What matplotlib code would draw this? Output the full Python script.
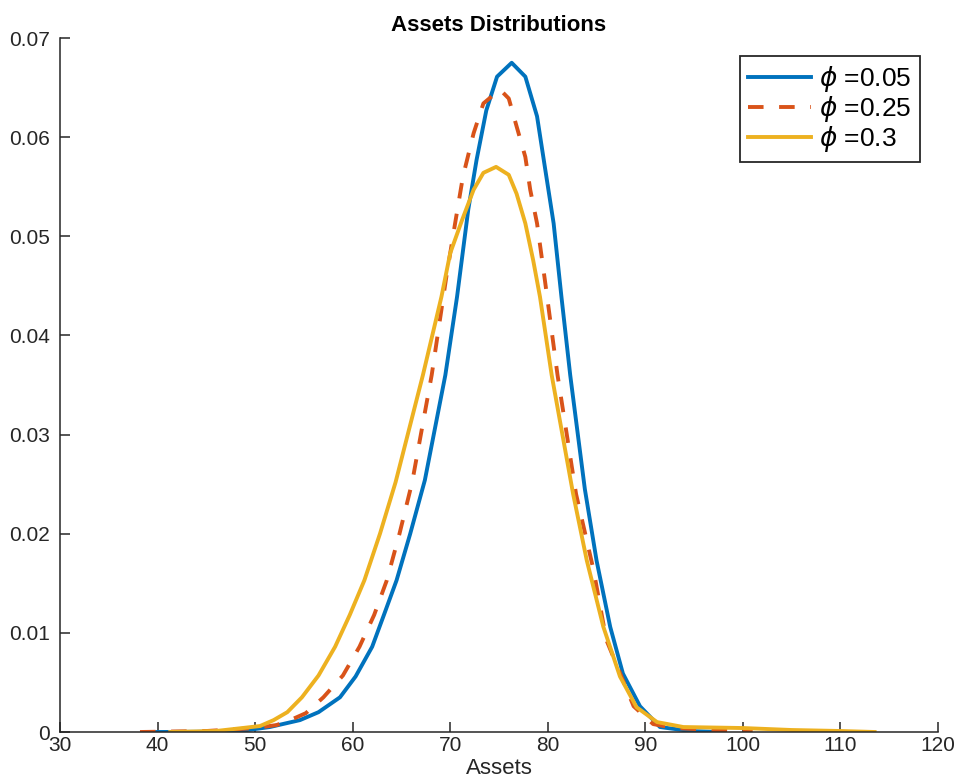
import matplotlib
matplotlib.use("Agg")
import matplotlib.pyplot as plt

plt.rcParams['font.family'] = ['Liberation Sans', 'DejaVu Sans']
plt.rcParams['mathtext.fontset'] = 'dejavusans'

# --- data ---
x_phi005 = [39.8, 44.0, 48.5, 51.5, 54.6, 56.5, 58.7, 60.3, 62.0, 63.2, 64.5, 65.9, 67.4, 69.5, 70.7, 71.85,
            72.7, 73.7, 74.8, 76.3, 77.7, 78.9, 79.7, 80.6, 81.4, 82.3, 83.8, 85.0, 86.4, 87.7, 89.45, 91.5,
            94.6, 97.6]
y_phi005 = [0.0, 0.00002, 0.0001, 0.0005, 0.0012, 0.0020, 0.0035, 0.0056, 0.0086, 0.0118, 0.0153, 0.0200,
            0.0254, 0.036, 0.0439, 0.0527, 0.0577, 0.0627, 0.0661, 0.0675, 0.0661, 0.0621, 0.0570, 0.0513,
            0.0439, 0.036, 0.0245, 0.0173, 0.0106, 0.0059, 0.0026, 0.0005, 0.0001, 0.0]

x_phi025 = [38.2, 45.0, 50.0, 52.2, 53.6, 55.2, 57.0, 59.0, 60.7, 62.2, 63.5, 64.8, 66.1, 68.1, 69.6, 70.5,
            71.3, 72.4, 73.4, 75.1, 76.0, 76.8, 77.7, 78.2, 78.9, 79.7, 81.0, 82.9, 84.7, 86.0, 88.8, 90.8,
            93.0, 97.0, 101.0]
y_phi025 = [0.0, 0.0001, 0.0004, 0.0007, 0.0012, 0.0019, 0.0035, 0.0057, 0.0086, 0.0118, 0.0153, 0.020,
            0.0252, 0.036, 0.0459, 0.0513, 0.0560, 0.0604, 0.0634, 0.0648, 0.0639, 0.0611, 0.0580, 0.0547,
            0.0513, 0.0456, 0.036, 0.024, 0.0163, 0.0093, 0.0026, 0.0008, 0.0004, 0.0002, 0.0]

x_phi03 = [41.3, 46.0, 50.5, 51.9, 53.3, 54.8, 56.5, 58.2, 59.7, 61.2, 62.8, 64.4, 67.2, 69.1, 70.0, 71.2,
           72.4, 73.4, 74.7, 76.0, 76.8, 77.7, 78.5, 79.2, 80.4, 82.6, 84.0, 85.7, 87.4, 89.1, 91.2, 93.9,
           100.0, 105.0, 110.0, 113.5]
y_phi03 = [0.0, 0.0001, 0.0006, 0.0012, 0.0020, 0.0035, 0.0057, 0.0086, 0.0118, 0.0153, 0.020, 0.0252,
           0.036, 0.0439, 0.0483, 0.0516, 0.0547, 0.0564, 0.0570, 0.0562, 0.0543, 0.0513, 0.0476, 0.0439,
           0.036, 0.024, 0.0173, 0.0106, 0.0056, 0.0025, 0.0010, 0.0005, 0.0004, 0.0002, 0.0001, 0.0]

series_labels = [r'$\phi$ =0.05', r'$\phi$ =0.25', r'$\phi$ =0.3']
x_ticks = [30, 40, 50, 60, 70, 80, 90, 100, 110, 120]
y_ticks = [0, 0.01, 0.02, 0.03, 0.04, 0.05, 0.06, 0.07]
y_tick_labels = ['0', '0.01', '0.02', '0.03', '0.04', '0.05', '0.06', '0.07']

fig = plt.figure(figsize=(9.58, 7.8), dpi=100)
ax = fig.add_axes([60/958, 48/780, 878/958, 694/780])

ax.plot(x_phi005, y_phi005, color='#0072BD', lw=2.8, label=series_labels[0],
        solid_joinstyle='round')
ax.plot(x_phi025, y_phi025, color='#D95319', lw=2.8, linestyle=(0, (4, 4)), label=series_labels[1],
        dash_joinstyle='round')
ax.plot(x_phi03, y_phi03, color='#EDB120', lw=2.8, label=series_labels[2],
        solid_joinstyle='round')

ax.set_xlim(30, 120)
ax.set_ylim(0, 0.07)
ax.set_xticks(x_ticks)
ax.set_xticklabels([str(t) for t in x_ticks])
ax.set_yticks(y_ticks)
ax.set_yticklabels(y_tick_labels)

for s in ['top', 'right']:
    ax.spines[s].set_visible(False)
for s in ['left', 'bottom']:
    ax.spines[s].set_color('#262626')
    ax.spines[s].set_linewidth(1.1)

ax.tick_params(direction='in', length=7, width=1.1, color='#262626',
               labelsize=15, labelcolor='#262626', top=False, right=False)
ax.tick_params(axis='y', pad=7)
ax.tick_params(axis='x', pad=3)

ax.set_xlabel('Assets', fontsize=16, color='#262626', labelpad=2)
ax.set_title('Assets Distributions', fontsize=16, fontweight='bold', pad=5)

leg = ax.legend(loc='upper right', fontsize=19, handlelength=2.4, handletextpad=0.3,
                borderaxespad=0.7, borderpad=0.3, labelspacing=0.0, fancybox=False,
                framealpha=1, edgecolor='#262626')
leg.get_frame().set_linewidth(1.3)

fig.savefig('out.png', dpi=100)
